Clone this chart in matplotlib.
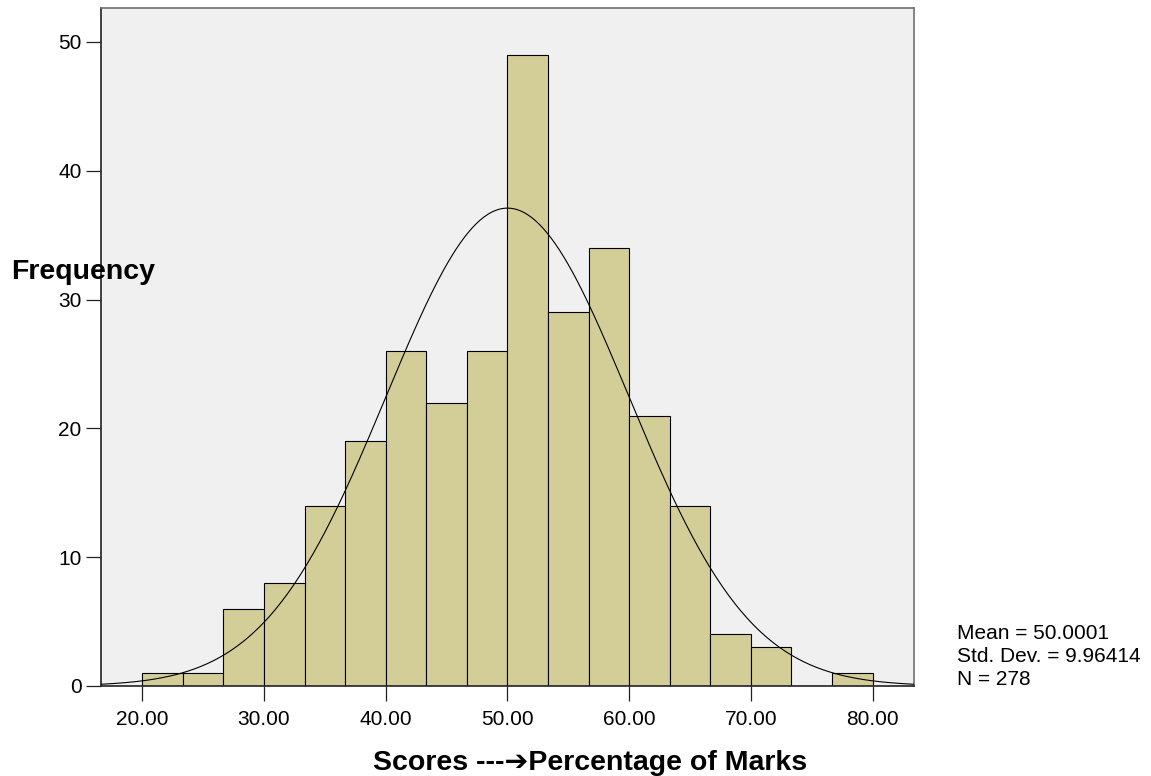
import numpy as np
import matplotlib
matplotlib.use('Agg')
from matplotlib import pyplot as plt

plt.rcParams['font.family'] = ['Liberation Sans', 'DejaVu Sans']

# histogram data
bin_edges = np.linspace(20, 80, 19)
counts = [1, 1, 6, 8, 14, 19, 26, 22, 26, 49, 29, 34, 21, 14, 4, 3, 0, 1]
mean = 50.0001
std_dev = 9.96414
n_total = 278
x_ticks = [20, 30, 40, 50, 60, 70, 80]
y_ticks = [0, 10, 20, 30, 40, 50]

fig = plt.figure(figsize=(11.51, 7.76), dpi=100)
ax = fig.add_axes([0.0877, 0.116, 0.7064, 0.8737])
ax.set_facecolor('#f0f0f0')

widths = np.diff(bin_edges)
ax.bar(bin_edges[:-1], counts, width=widths, align='edge',
       color='#d3ce97', edgecolor='black', linewidth=0.8, zorder=2)

# normal curve scaled to counts
xs = np.linspace(16.6, 83.4, 400)
bw = widths[0]
ys = n_total * bw / (std_dev * np.sqrt(2 * np.pi)) * np.exp(-0.5 * ((xs - mean) / std_dev) ** 2)
ax.plot(xs, ys, color='black', linewidth=0.8, zorder=3)

ax.set_xlim(16.6, 83.4)
ax.set_ylim(0, 52.64)
ax.set_xticks(x_ticks)
ax.set_xticklabels([f'{t:.2f}' for t in x_ticks])
ax.set_yticks(y_ticks)
ax.tick_params(axis='both', length=11, width=0.9, labelsize=15, color='#222222')
ax.tick_params(axis='x', pad=6)
ax.tick_params(axis='y', pad=3)

for s in ['left', 'bottom']:
    ax.spines[s].set_color('#222222')
    ax.spines[s].set_linewidth(1.2)
for s in ['top', 'right']:
    ax.spines[s].set_color('#707070')
    ax.spines[s].set_linewidth(1.2)

fig.text(11 / 1151, 1 - 279 / 776, 'Frequency', fontsize=20.5,
         fontweight='bold', ha='left', va='baseline')
fig.text(590 / 1151, 1 - 770 / 776, 'Scores ---\u2794Percentage of Marks',
         fontsize=20.5, fontweight='bold', ha='center', va='baseline')

fig.text(957 / 1151, 1 - 639 / 776, f'Mean = {mean}', fontsize=15, va='baseline')
fig.text(957 / 1151, 1 - 662 / 776, f'Std. Dev. = {std_dev}', fontsize=15, va='baseline')
fig.text(957 / 1151, 1 - 685 / 776, f'N = {n_total}', fontsize=15, va='baseline')

fig.savefig('out.png', dpi=100)
